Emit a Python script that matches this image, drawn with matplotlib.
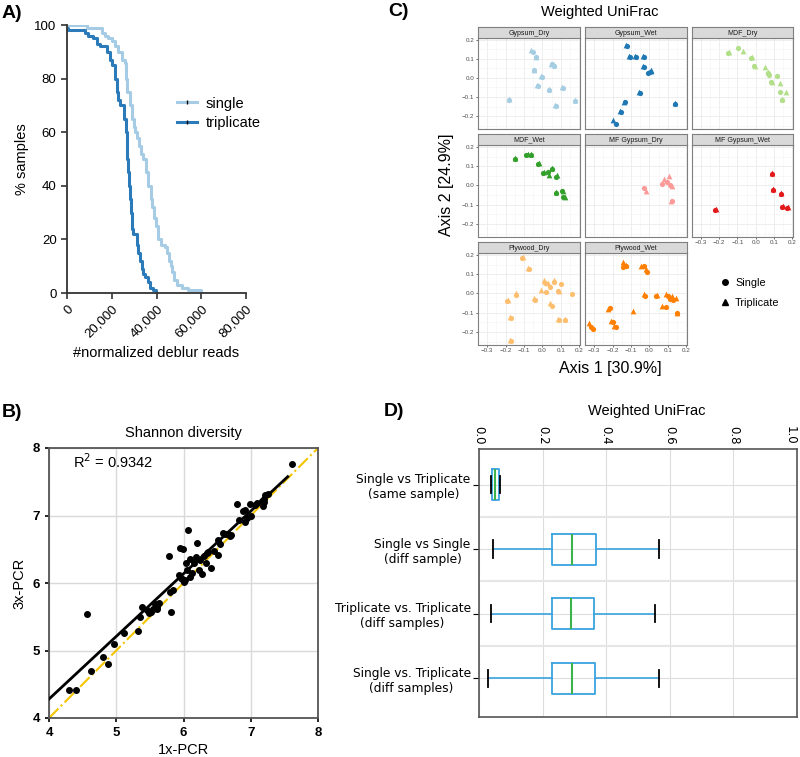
import matplotlib
matplotlib.use("Agg")
import matplotlib.pyplot as plt
from matplotlib.lines import Line2D
from matplotlib.ticker import FuncFormatter
import numpy as np

plt.rcParams['font.family'] = ['Liberation Sans', 'DejaVu Sans']

W, H = 800, 757

# ---------------- data: A) read-depth survival curves ----------------
single_reads = [0, 8800, 15500, 17000, 18500, 20000, 21500, 23000, 24400, 25900, 26500, 27000,
                28000, 28900, 29800, 30500, 31100, 32300, 33000, 34100, 35100, 36300, 37400,
                38100, 38800, 39700, 40800, 42000, 43800, 44500, 45700, 46300, 47100, 47800,
                49000, 51300, 54200, 59900]
single_pct = [100, 99, 97, 96, 95, 94, 92, 90, 87, 86, 80, 75, 70, 65, 62, 60, 58, 55, 52, 50,
              45, 40, 35, 32, 28, 25, 20, 18, 17, 15, 12, 10, 8, 5, 3, 2, 1, 0]
trip_reads = [0, 300, 8000, 9500, 11800, 13200, 14750, 17700, 19200, 20000, 21500, 22200, 23000,
              23700, 25500, 26200, 26700, 27000, 27400, 27800, 28200, 28600, 28900, 29600,
              31100, 31900, 32600, 33400, 34100, 34900, 36300, 37100, 38500, 39800]
trip_pct = [99, 98, 97, 96, 95, 93, 92, 90, 87, 85, 80, 75, 72, 70, 65, 60, 55, 50, 45, 40, 35,
            30, 24, 22, 18, 15, 12, 9, 7, 6, 4, 2, 1, 0]

# ---------------- data: B) Shannon diversity ----------------
shannon_1x = [7.61, 4.29, 4.40, 4.57, 4.62, 4.81, 4.88, 4.96, 5.12, 5.32, 5.35, 5.38, 5.46, 5.49,
              5.57, 5.60, 5.63, 5.61, 5.78, 5.81, 5.80, 5.84, 5.93, 5.95, 5.99, 5.96, 6.00, 6.03,
              6.07, 6.09, 6.05, 6.09, 6.16, 6.18, 6.20, 6.23, 6.25, 6.27, 6.31, 6.35, 6.33, 6.37,
              6.41, 6.51, 6.51, 6.54, 6.59, 6.62, 6.66, 6.69, 6.79, 6.82, 6.88, 6.91, 6.92, 6.99,
              7.00, 7.06, 7.09, 7.18, 7.19, 7.21, 7.25, 7.17, 5.52, 5.55, 5.98, 6.02, 6.12, 6.45,
              6.70, 6.95, 7.20]
shannon_3x = [7.76, 4.41, 4.41, 5.54, 4.69, 4.90, 4.80, 5.09, 5.26, 5.29, 5.49, 5.64, 5.60, 5.56,
              5.69, 5.61, 5.70, 5.65, 6.40, 5.57, 5.87, 5.90, 6.12, 6.52, 6.50, 6.07, 6.01, 6.29,
              6.78, 6.36, 6.19, 6.09, 6.29, 6.39, 6.59, 6.19, 6.34, 6.14, 6.40, 6.44, 6.29, 6.46,
              6.22, 6.42, 6.63, 6.58, 6.74, 6.72, 6.72, 6.69, 7.17, 6.94, 7.07, 7.08, 6.91, 7.17,
              7.00, 7.16, 7.18, 7.14, 7.25, 7.30, 7.32, 7.22, 5.57, 5.62, 6.06, 6.05, 6.15, 6.47,
              6.71, 6.96, 7.20]
fit_slope = 0.928
fit_intercept = 0.569
fit_x = [4.0, 7.55]
r2_text = "R$^2$ = 0.9342"

# ---------------- data: C) PCoA facets ----------------
facets = ["Gypsum_Dry", "Gypsum_Wet", "MDF_Dry", "MDF_Wet", "MF Gypsum_Dry", "MF Gypsum_Wet",
          "Plywood_Dry", "Plywood_Wet"]
facet_colors = ["#a6cee3", "#1f78b4", "#b2df8a", "#33a02c", "#fb9a99", "#e31a1c", "#fdbf6f", "#ff7f00"]

single_x = [
    [-0.052, -0.034, -0.046, -0.003, -0.025, 0.037, 0.051, 0.066, 0.111, 0.075, 0.178, -0.179],
    [-0.123, -0.104, -0.072, -0.030, -0.030, 0.004, -0.006, -0.052, -0.131, -0.155, -0.181, 0.140],
    [-0.152, -0.097, -0.025, -0.012, 0.075, 0.119, 0.084, 0.134, 0.142, 0.066],
    [-0.151, -0.090, -0.063, -0.021, 0.006, 0.033, 0.051, 0.075, 0.075, 0.106, 0.115],
    [-0.030, 0.068, 0.095, 0.113, 0.122],
    [0.089, 0.093, 0.138, 0.147, 0.174, -0.222],
    [-0.108, -0.074, -0.142, -0.191, -0.172, -0.170, -0.038, 0.013, 0.022, 0.041, 0.050, 0.061,
     0.086, 0.100, 0.091, 0.125, 0.162],
    [-0.128, -0.141, -0.028, -0.014, -0.025, 0.037, 0.104, 0.113, 0.131, 0.089, 0.149, -0.213,
     -0.200, -0.183, -0.316, -0.304],
]
single_y = [
    [0.139, 0.109, 0.042, 0.007, -0.040, -0.063, 0.072, 0.065, -0.051, -0.146, -0.121, -0.116],
    [0.170, 0.108, 0.112, 0.112, 0.058, 0.030, 0.026, -0.078, -0.128, -0.177, -0.240, -0.136],
    [0.133, 0.156, 0.105, 0.063, 0.016, 0.011, -0.023, -0.072, -0.118, 0.028],
    [0.137, 0.160, 0.160, 0.113, 0.065, 0.070, 0.086, 0.043, -0.040, -0.031, -0.061],
    [-0.016, 0.005, 0.016, 0.002, -0.083],
    [0.058, -0.026, -0.044, -0.112, -0.116, -0.126],
    [0.183, 0.127, -0.007, -0.040, -0.130, -0.248, -0.033, 0.054, 0.007, 0.033, -0.063, 0.058,
     0.011, 0.051, -0.136, -0.136, -0.002],
    [0.144, 0.139, 0.142, 0.112, -0.016, -0.011, -0.016, -0.028, -0.033, -0.068, -0.104, -0.077,
     -0.151, -0.174, -0.174, -0.186],
]
trip_x = [
    [-0.061, -0.037, -0.048, -0.008, -0.029, 0.035, 0.048, 0.063, 0.108, 0.071, 0.176, -0.181],
    [-0.125, -0.110, -0.078, -0.034, -0.032, 0.010, 0.008, -0.058, -0.136, -0.158, -0.195, 0.139],
    [-0.146, -0.068, -0.020, -0.006, 0.053, 0.135, 0.088, 0.165, 0.146, 0.070],
    [-0.149, -0.076, -0.060, -0.019, 0.008, 0.039, 0.053, 0.082, 0.077, 0.110, 0.122],
    [-0.017, 0.080, 0.109, 0.122, 0.120],
    [0.092, 0.096, 0.141, 0.150, 0.177, -0.219],
    [-0.106, -0.080, -0.144, -0.189, -0.177, -0.175, -0.043, 0.010, -0.008, 0.032, 0.041, 0.063,
     0.089, 0.086, 0.122],
    [-0.141, -0.128, -0.045, -0.017, -0.028, 0.040, 0.089, 0.122, 0.146, 0.071, 0.152, -0.226,
     -0.208, -0.190, -0.327, -0.090],
]
trip_y = [
    [0.147, 0.111, 0.044, 0.010, -0.038, -0.060, 0.075, 0.068, -0.048, -0.143, -0.118, -0.113],
    [0.175, 0.114, 0.118, 0.116, 0.062, 0.038, 0.040, -0.074, -0.124, -0.173, -0.221, -0.131],
    [0.135, 0.142, 0.109, 0.065, 0.056, -0.025, -0.020, -0.074, -0.112, 0.032],
    [0.141, 0.163, 0.163, 0.117, 0.068, 0.054, 0.090, 0.056, -0.036, -0.027, -0.060],
    [-0.030, 0.034, 0.049, -0.005, -0.079],
    [0.063, -0.021, -0.039, -0.108, -0.112, -0.121],
    [0.188, 0.132, 0.000, -0.035, -0.121, -0.240, -0.026, 0.072, 0.016, 0.054, -0.051, 0.072,
     0.013, -0.131, -0.131],
    [0.165, 0.146, 0.145, 0.125, -0.005, -0.007, -0.002, -0.016, -0.023, -0.063, -0.100, -0.081,
     -0.142, -0.168, -0.156, -0.093],
]

# ---------------- data: D) Weighted UniFrac distances ----------------
box_labels = ["Single vs Triplicate\n(same sample)", "Single vs Single\n(diff sample)",
              "Triplicate vs. Triplicate\n(diff samples)", "Single vs. Triplicate\n(diff samples)"]
box_whislo = [0.037, 0.043, 0.039, 0.029]
box_q1 = [0.042, 0.231, 0.231, 0.231]
box_med = [0.051, 0.294, 0.290, 0.292]
box_q3 = [0.062, 0.367, 0.362, 0.365]
box_whishi = [0.067, 0.565, 0.555, 0.566]


def px_axes(l, t, r, b):
    return fig.add_axes([l / W, 1 - b / H, (r - l) / W, (b - t) / H])


fig = plt.figure(figsize=(8, 7.57), dpi=100)

# ================= A =================
axA = px_axes(67, 25, 246, 293)
axA.step(single_reads, single_pct, where='post', color='#a5cce4', lw=2.2)
axA.step(trip_reads, trip_pct, where='post', color='#2b7bba', lw=2.2)
axA.set_xlim(0, 80000)
axA.set_ylim(0, 100)
axA.set_xticks([0, 20000, 40000, 60000, 80000])
axA.set_yticks([0, 20, 40, 60, 80, 100])
axA.xaxis.set_major_formatter(FuncFormatter(lambda v, p: f"{int(v):,}"))
for s in ['top', 'right']:
    axA.spines[s].set_visible(False)
for s in ['left', 'bottom']:
    axA.spines[s].set_linewidth(1.3)
    axA.spines[s].set_color('#333333')
axA.tick_params(labelsize=9.5, width=1.2, length=4, color='#333333')
plt.setp(axA.get_xticklabels(), rotation=45, ha='right', rotation_mode='anchor')
axA.set_ylabel("% samples", fontsize=10.5)
axA.set_xlabel("#normalized deblur reads", fontsize=10.5)
hA = [Line2D([0], [0], color='#a5cce4', lw=2.2, marker='|', mec='black', ms=3),
      Line2D([0], [0], color='#2b7bba', lw=2.2, marker='|', mec='black', ms=3)]
axA.legend(hA, ["single", "triplicate"], loc='center left', bbox_to_anchor=(0.54, 0.67),
           frameon=False, fontsize=10.5, handlelength=1.4, handletextpad=0.6,
           labelspacing=0.4)
fig.text(2 / W, 1 - 14 / H, "A)", fontsize=14, fontweight='bold', va='center')

# ================= B =================
axB = px_axes(49, 448, 318, 718)
axB.grid(True, color='#d9d9d9', lw=1)
axB.set_axisbelow(True)
axB.plot([4, 8], [4, 8], color='#f2c500', lw=1.5, ls='-.', clip_on=False, zorder=2)
fx = np.array(fit_x)
axB.plot(fx, fit_slope * fx + fit_intercept, color='black', lw=2, zorder=3)
axB.scatter(shannon_1x, shannon_3x, s=16, color='black', zorder=4)
axB.set_xlim(4, 8)
axB.set_ylim(4, 8)
axB.set_xticks([4, 5, 6, 7, 8])
axB.set_yticks([4, 5, 6, 7, 8])
for s in axB.spines.values():
    s.set_linewidth(1.3)
    s.set_color('#555555')
axB.tick_params(labelsize=9.5, width=1.2, length=3)
for lab in axB.get_xticklabels() + axB.get_yticklabels():
    lab.set_fontweight('bold')
axB.set_title("Shannon diversity", fontsize=10.5, pad=8)
axB.set_xlabel("1x-PCR", fontsize=10.5, labelpad=3)
axB.set_ylabel("3x-PCR", fontsize=10.5)
axB.text(4.35, 7.8, r2_text, fontsize=10.5, va='center')
fig.text(2 / W, 1 - 412 / H, "B)", fontsize=14, fontweight='bold', va='center')

# ================= C =================
col_lr = [(478, 580), (585, 687), (692, 793)]
row_tb = [(27, 38, 129), (134, 145, 237), (242, 253, 345)]
xticks_c = [-0.3, -0.2, -0.1, 0.0, 0.1, 0.2]
yticks_c = [-0.2, -0.1, 0.0, 0.1, 0.2]
bottom_facets = ["MF Gypsum_Wet", "Plywood_Dry", "Plywood_Wet"]

def fmt_c(v, p):
    return f"{v:.1f}".replace('-', '\u2212')

for i, name in enumerate(facets):
    r, c = divmod(i, 3)
    l, rr = col_lr[c]
    st, pt, pb = row_tb[r]
    ax = px_axes(l, pt, rr, pb)
    ax.set_xlim(-0.35, 0.205)
    ax.set_ylim(-0.268, 0.21)
    ax.set_xticks(xticks_c)
    ax.set_yticks(yticks_c)
    ax.set_xticks(np.arange(-0.35, 0.21, 0.1), minor=True)
    ax.set_yticks(np.arange(-0.25, 0.21, 0.1), minor=True)
    ax.grid(True, which='major', color='#ebebeb', lw=0.6)
    ax.grid(True, which='minor', color='#f4f4f4', lw=0.4)
    ax.set_axisbelow(True)
    ax.tick_params(which='minor', length=0)
    ax.tick_params(which='major', labelsize=4.5, length=1.5, width=0.5, color='#333333',
                   labelcolor='#4d4d4d', pad=1)
    ax.xaxis.set_major_formatter(FuncFormatter(fmt_c))
    ax.yaxis.set_major_formatter(FuncFormatter(fmt_c))
    if name not in bottom_facets:
        ax.tick_params(axis='x', length=0, labelbottom=False)
    if c != 0:
        ax.tick_params(axis='y', length=0, labelleft=False)
    for s in ax.spines.values():
        s.set_color('#7f7f7f')
        s.set_linewidth(0.8)
    ax.scatter(single_x[i], single_y[i], marker='o', s=14, color=facet_colors[i], lw=0, zorder=3)
    ax.scatter(trip_x[i], trip_y[i], marker='^', s=17, color=facet_colors[i], lw=0, zorder=3)
    sx = px_axes(l, st, rr, pt)
    sx.set_facecolor('#d9d9d9')
    sx.set_xticks([])
    sx.set_yticks([])
    for s in sx.spines.values():
        s.set_color('#7f7f7f')
        s.set_linewidth(0.8)
    sx.text(0.5, 0.45, name, ha='center', va='center', fontsize=5, color='#1a1a1a',
            transform=sx.transAxes)

fig.text(600 / W, 1 - 12 / H, "Weighted UniFrac", fontsize=10.5, ha='center', va='center')
fig.text(610 / W, 1 - 368 / H, "Axis 1 [30.9%]", fontsize=11.5, ha='center', va='center')
fig.text(447 / W, 1 - 185 / H, "Axis 2 [24.9%]", fontsize=11.5, ha='center', va='center',
         rotation=90)
hC = [Line2D([0], [0], marker='o', color='black', ls='', ms=4),
      Line2D([0], [0], marker='^', color='black', ls='', ms=4.5)]
fig.legend(hC, ["Single", "Triplicate"], loc='center left',
           bbox_to_anchor=(707 / W, 1 - 293 / H), frameon=False, fontsize=7.8,
           handletextpad=0.1, labelspacing=0.9, handlelength=1.6)
fig.text(388 / W, 1 - 12 / H, "C)", fontsize=14, fontweight='bold', va='center')

# ================= D =================
axD = px_axes(479, 449, 797, 717)
stats = [dict(whislo=box_whislo[k], q1=box_q1[k], med=box_med[k], q3=box_q3[k],
              whishi=box_whishi[k], fliers=[], label=box_labels[k]) for k in range(4)]
axD.bxp(stats, positions=[1, 2, 3, 4], vert=False, widths=0.48, showfliers=False,
        boxprops=dict(color='#3aa3e0', lw=1.3),
        medianprops=dict(color='#3cb44b', lw=1.5),
        whiskerprops=dict(color='#3aa3e0', lw=1.2),
        capprops=dict(color='black', lw=1.3), capwidths=0.27)
axD.set_xlim(0, 1)
axD.set_ylim(4.6, 0.45)
axD.xaxis.tick_top()
axD.set_xticks([0.0, 0.2, 0.4, 0.6, 0.8, 1.0])
axD.xaxis.set_major_formatter(FuncFormatter(lambda v, p: f"{v:.1f}"))
axD.set_yticks([1, 2, 3, 4])
axD.set_yticks([1.5, 2.5, 3.5], minor=True)
axD.grid(True, which='major', color='#dddddd', lw=0.8)
axD.grid(True, which='minor', axis='y', color='#e6e6e6', lw=1.5)
axD.set_axisbelow(True)
axD.tick_params(which='minor', length=0)
axD.tick_params(axis='x', labelsize=8.5, length=0, pad=3)
axD.tick_params(axis='y', length=4, width=0.8, pad=2)
xlabs = axD.get_xticklabels()
for lab in xlabs:
    lab.set_rotation(-90)
    lab.set_family('DejaVu Sans')
    lab.set_va('bottom')
xlabs[-1].set_ha('right')  # keep the last label inside the canvas
axD.set_yticklabels(box_labels, fontsize=8.8, family='DejaVu Sans', ha='right',
                    multialignment='center')
for s in axD.spines.values():
    s.set_color('#555555')
    s.set_linewidth(1.2)
fig.text(647 / W, 1 - 411 / H, "Weighted UniFrac", fontsize=10.5, ha='center', va='center')
fig.text(384 / W, 1 - 411 / H, "D)", fontsize=14, fontweight='bold', va='center')

fig.savefig("out.png", dpi=100)
